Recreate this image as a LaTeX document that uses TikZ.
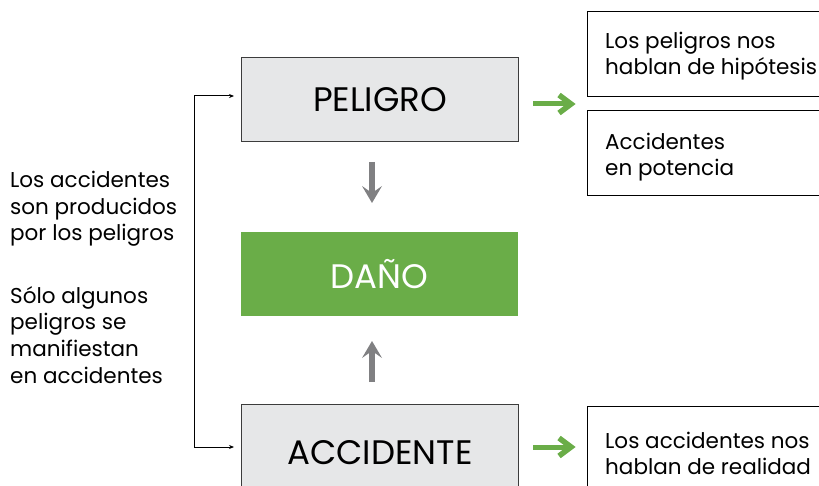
\documentclass[tikz,border=0pt]{standalone}
\usepackage{fontspec}
\setmainfont{Poppins}
\usetikzlibrary{arrows.meta}
\definecolor{boxgray}{RGB}{230,231,232}
\definecolor{edgegray}{RGB}{60,60,60}
\definecolor{dgreen}{RGB}{106,173,72}
\definecolor{agray}{RGB}{128,128,130}
\tikzset{
  mainbox/.style={draw=edgegray, line width=1.2pt, fill=boxgray, minimum width=277pt, minimum height=84pt, inner sep=0pt, font=\fontsize{34}{38}\selectfont, anchor=north west},
  greenbox/.style={fill=dgreen, text=white, minimum width=277pt, minimum height=84pt, inner sep=0pt, font=\fontsize{34}{38}\selectfont, anchor=north west},
  infobox/.style={draw=black, line width=1.2pt, minimum width=260pt, minimum height=85pt, inner sep=0pt, anchor=north west},
  infotext/.style={anchor=west, align=left, font=\fontsize{21.5}{26}\selectfont, inner sep=0pt},
  sidetext/.style={anchor=north west, align=left, font=\fontsize{21.5}{26.7}\selectfont, inner sep=0pt},
  grshaft/.style={draw=dgreen, line width=5pt},
  grhead/.style={draw=dgreen, line width=5.5pt, miter limit=10, line join=miter},
  gyshaft/.style={draw=agray, line width=6pt},
  gyhead/.style={fill=agray, draw=none},
  bracket/.style={draw=black, line width=1pt, -{Stealth[length=5pt,width=4pt]}}
}
\begin{document}
\begin{tikzpicture}[x=1pt,y=-1pt]
\useasboundingbox (0,0) rectangle (819,486);
\clip (0,0) rectangle (819,486);
% main boxes
\node[mainbox] (pel) at (241,57) {PELIGRO};
\node[greenbox] (dan) at (241,232) {DAÑO};
\node[mainbox, minimum height=100pt] (acc) at (241,404) {};
\node[font=\fontsize{34}{38}\selectfont] (acclbl) at (380,453) {ACCIDENTE};
% info boxes
\node[infobox] (i1) at (587,11) {};
\node[infobox] (i2) at (587,110) {};
\node[infobox, minimum height=100pt] (i3) at (587,406) {};
\node[infotext] (t1) at (605,56) {Los peligros nos\\hablan de hipótesis};
\node[infotext] (t2) at (605,157) {Accidentes\\en potencia};
\node[infotext] (t3) at (605,453) {Los accidentes nos\\hablan de realidad};
% left texts
\node[sidetext] (s1) at (10,171) {Los accidentes\\son producidos\\por los peligros};
\node[sidetext] (s2) at (10,286) {Sólo algunos\\peligros se\\manifiestan\\en accidentes};
% green arrows
\coordinate (g1s) at (533,104);
\coordinate (g1e) at (568,104);
\draw[grshaft] (g1s) -- (g1e);
\draw[grhead] (559,95) -- (571,104) -- (559,113);
\coordinate (g2s) at (533,447);
\coordinate (g2e) at (568,447);
\draw[grshaft] (g2s) -- (g2e);
\draw[grhead] (559,438) -- (571,447) -- (559,456);
% gray arrows
\coordinate (d1s) at (372,162);
\coordinate (d1e) at (372,194);
\draw[gyshaft] (d1s) -- (d1e);
\fill[gyhead] (372,203) -- (362,186) -- (372,193) -- (382,186) -- cycle;
\coordinate (u1s) at (372,382);
\coordinate (u1e) at (372,350);
\draw[gyshaft] (u1s) -- (u1e);
\fill[gyhead] (372,341) -- (362,358) -- (372,351) -- (382,358) -- cycle;
% bracket
\coordinate (bt) at (194,96);
\coordinate (bb) at (194,447);
\draw[bracket] (bb) -- (bt) -- ([xshift=-7pt]pel.west |- bt);
\draw[bracket] (bt) -- (bb) -- ([xshift=-7pt]acc.west |- bb);
\end{tikzpicture}
\end{document}
